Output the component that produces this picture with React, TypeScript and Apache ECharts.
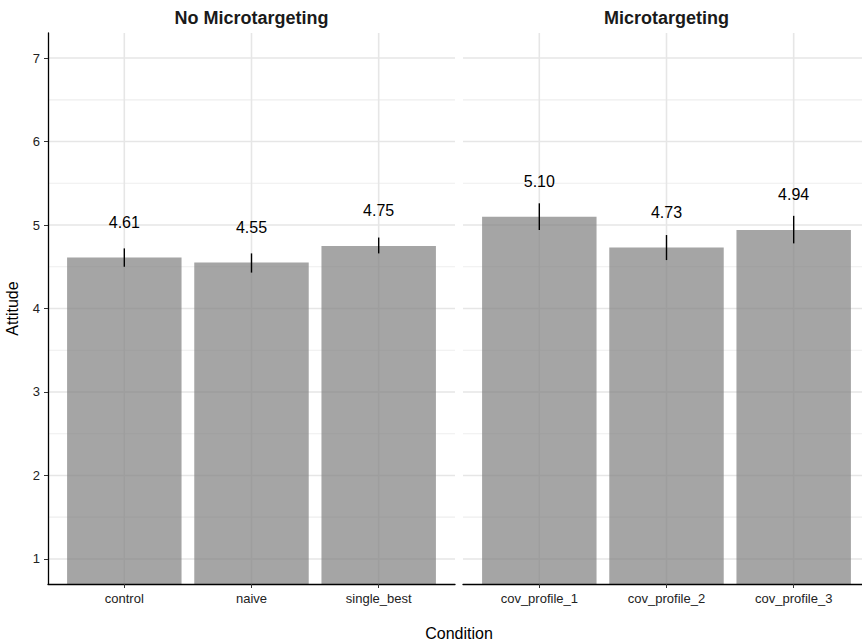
import React, { useEffect, useRef } from "react";
import * as echarts from "echarts";

// Facet contents
const PANEL_TITLES = ["No Microtargeting", "Microtargeting"];
const CATEGORIES_LEFT = ["control", "naive", "single_best"];
const MEANS_LEFT = [4.61, 4.55, 4.75];
const LOWER_LEFT = [4.5, 4.43, 4.66];
const UPPER_LEFT = [4.72, 4.66, 4.85];

const CATEGORIES_RIGHT = ["cov_profile_1", "cov_profile_2", "cov_profile_3"];
const MEANS_RIGHT = [5.1, 4.73, 4.94];
const LOWER_RIGHT = [4.94, 4.58, 4.78];
const UPPER_RIGHT = [5.26, 4.88, 5.11];

// Axis ticks
const Y_TICKS = [1, 2, 3, 4, 5, 6, 7];
const Y_MINOR = [1.5, 2.5, 3.5, 4.5, 5.5, 6.5];
const X_POSITIONS = [1, 2, 3];

const Y_MIN = 0.7;
const Y_MAX = 7.3;
const X_MIN = 0.4;
const X_MAX = 3.6;
const BAR_HALF = 0.45;
const LABEL_OFFSET = 0.42;

const FONT = "'Liberation Sans', Arial, Helvetica, sans-serif";

const GRIDS = [
  { left: 48, top: 33, width: 407, height: 551 },
  { left: 463, top: 33, width: 407, height: 551 },
];

function gridLineData() {
  // [kind, value]: 0 = major horizontal, 1 = minor horizontal, 2 = vertical
  return [
    ...Y_TICKS.map((v) => [0, v]),
    ...Y_MINOR.map((v) => [1, v]),
    ...X_POSITIONS.map((v) => [2, v]),
  ];
}

function barData(means: number[], lower: number[], upper: number[]) {
  return X_POSITIONS.map((x, i) => [x, means[i], lower[i], upper[i]]);
}

function renderGridLine(params: any, api: any) {
  const cs = params.coordSys;
  const kind = api.value(0);
  const v = api.value(1);
  if (kind === 2) {
    const x = api.coord([v, Y_MIN])[0];
    return {
      type: "line",
      shape: { x1: x, y1: cs.y, x2: x, y2: cs.y + cs.height },
      style: { stroke: "#e6e6e6", lineWidth: 1.6 },
    };
  }
  const y = api.coord([X_MIN, v])[1];
  return {
    type: "line",
    shape: { x1: cs.x, y1: y, x2: cs.x + cs.width, y2: y },
    style: {
      stroke: kind === 0 ? "#e6e6e6" : "#eeeeee",
      lineWidth: kind === 0 ? 1.6 : 1.2,
    },
  };
}

function renderBar(params: any, api: any) {
  const cs = params.coordSys;
  const x = api.value(0);
  const mean = api.value(1);
  const lo = api.value(2);
  const hi = api.value(3);
  const topLeft = api.coord([x - BAR_HALF, mean]);
  const topRight = api.coord([x + BAR_HALF, mean]);
  const bottom = cs.y + cs.height;
  const loPt = api.coord([x, lo]);
  const hiPt = api.coord([x, hi]);
  const labelPt = api.coord([x, mean + LABEL_OFFSET]);
  return {
    type: "group",
    children: [
      {
        type: "rect",
        shape: {
          x: topLeft[0],
          y: topLeft[1],
          width: topRight[0] - topLeft[0],
          height: bottom - topLeft[1],
        },
        style: { fill: "rgba(127,127,127,0.7)" },
      },
      {
        type: "line",
        shape: { x1: loPt[0], y1: loPt[1], x2: hiPt[0], y2: hiPt[1] },
        style: { stroke: "#000", lineWidth: 1.4 },
      },
      {
        type: "text",
        style: {
          text: mean.toFixed(2),
          x: labelPt[0],
          y: labelPt[1],
          align: "center",
          verticalAlign: "middle",
          fill: "#000",
          fontSize: 16,
          fontFamily: FONT,
        },
      },
    ],
  };
}

function xAxisFor(index: number, categories: string[]) {
  return {
    type: "value",
    gridIndex: index,
    min: X_MIN,
    max: X_MAX,
    z: 5,
    axisLine: { show: true, onZero: false, lineStyle: { color: "#000", width: 1.3 } },
    axisTick: {
      show: true,
      customValues: X_POSITIONS,
      length: 4,
      lineStyle: { color: "#333", width: 1 },
    },
    axisLabel: {
      customValues: X_POSITIONS,
      formatter: (v: number) => categories[Math.round(v) - 1] ?? "",
      fontSize: 13,
      color: "#222",
      margin: 8,
      fontFamily: FONT,
    },
    splitLine: { show: false },
  };
}

export default function App() {
  const ref = useRef<HTMLDivElement>(null);

  useEffect(() => {
    if (!ref.current) return;
    const chart = echarts.init(ref.current, null, { renderer: "svg" });
    const option: any = {
      animation: false,
      backgroundColor: "#ffffff",
      grid: GRIDS.map((g) => ({ ...g, containLabel: false, outerBoundsMode: "none" })),
      xAxis: [xAxisFor(0, CATEGORIES_LEFT), xAxisFor(1, CATEGORIES_RIGHT)],
      yAxis: [
        {
          type: "value",
          gridIndex: 0,
          min: Y_MIN,
          max: Y_MAX,
          z: 5,
          name: "Attitude",
          nameLocation: "middle",
          nameGap: 28,
          nameRotate: 90,
          nameTextStyle: { fontSize: 16, color: "#000", fontFamily: FONT },
          axisLine: { show: true, onZero: false, lineStyle: { color: "#000", width: 1.3 } },
          axisTick: {
            show: true,
            customValues: Y_TICKS,
            length: 4,
            lineStyle: { color: "#333", width: 1 },
          },
          axisLabel: {
            customValues: Y_TICKS,
            fontSize: 13,
            color: "#222",
            margin: 8,
            fontFamily: FONT,
          },
          splitLine: { show: false },
        },
        {
          type: "value",
          gridIndex: 1,
          min: Y_MIN,
          max: Y_MAX,
          axisLine: { show: false },
          axisTick: { show: false },
          axisLabel: { show: false },
          splitLine: { show: false },
        },
      ],
      graphic: [
        ...PANEL_TITLES.map((t, i) => ({
          type: "text",
          x: GRIDS[i].left + GRIDS[i].width / 2,
          y: 18,
          style: {
            text: t,
            align: "center",
            verticalAlign: "middle",
            fontSize: 18,
            fontWeight: "bold",
            fill: "#1a1a1a",
            fontFamily: FONT,
          },
        })),
        {
          type: "text",
          x: (GRIDS[0].left + GRIDS[1].left + GRIDS[1].width) / 2,
          y: 633,
          style: {
            text: "Condition",
            align: "center",
            verticalAlign: "middle",
            fontSize: 16,
            fill: "#000",
            fontFamily: FONT,
          },
        },
      ],
      series: [
        {
          type: "custom",
          name: "gridLeft",
          xAxisIndex: 0,
          yAxisIndex: 0,
          z: 1,
          silent: true,
          renderItem: renderGridLine,
          data: gridLineData(),
        },
        {
          type: "custom",
          name: "gridRight",
          xAxisIndex: 1,
          yAxisIndex: 1,
          z: 1,
          silent: true,
          renderItem: renderGridLine,
          data: gridLineData(),
        },
        {
          type: "custom",
          name: "No Microtargeting",
          xAxisIndex: 0,
          yAxisIndex: 0,
          z: 2,
          renderItem: renderBar,
          data: barData(MEANS_LEFT, LOWER_LEFT, UPPER_LEFT),
        },
        {
          type: "custom",
          name: "Microtargeting",
          xAxisIndex: 1,
          yAxisIndex: 1,
          z: 2,
          renderItem: renderBar,
          data: barData(MEANS_RIGHT, LOWER_RIGHT, UPPER_RIGHT),
        },
      ],
    };
    chart.setOption(option);
    return () => chart.dispose();
  }, []);

  return (
    <div
      ref={ref}
      style={{ position: "fixed", left: 0, top: 0, width: 862, height: 643, background: "#fff" }}
    />
  );
}
